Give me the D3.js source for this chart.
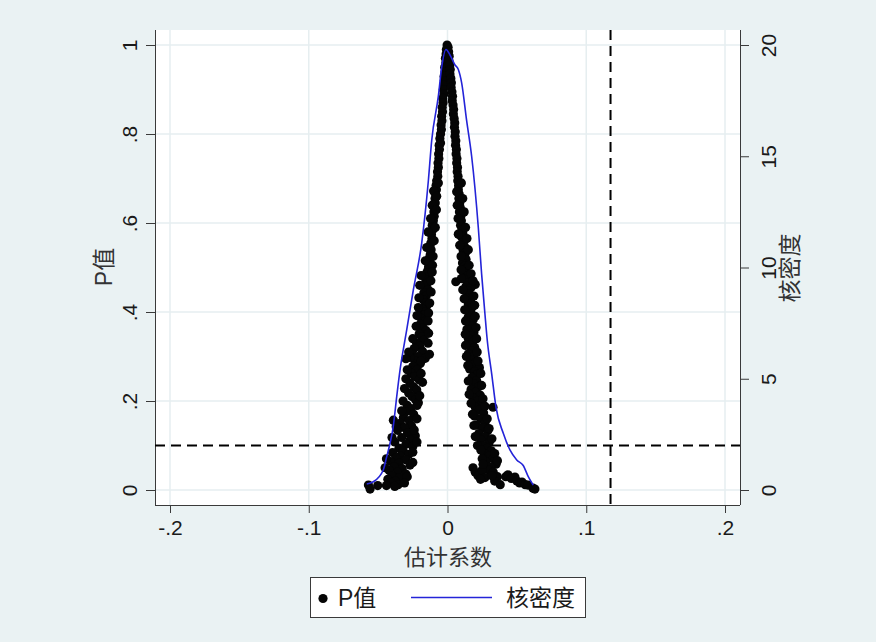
<!DOCTYPE html>
<html lang="zh">
    <head>
        <meta charset="utf-8">
        <title>安慰剂检验</title>
        <script src="https://d3js.org/d3.v7.min.js"></script>
        <style>
            body { margin: 0; background: #eaf2f3; }
            text { font-family: "Liberation Sans", Arial, "Noto Sans CJK SC", sans-serif; fill: #1a1a1a; }
            .cjk { font-family: "Noto Sans CJK SC", sans-serif; }
        </style>
    </head>
    <body>
        <script>
            // 估计系数 / P值 (left arm: negative coefficients)
            const leftCoef = [-0.0003,-0.0008,-0.0010,-0.0015,-0.0012,-0.0020,-0.0018,-0.0024,-0.0022,-0.0028,-0.0030,-0.0026,-0.0034,-0.0032,-0.0038,-0.0036,-0.0042,-0.0040,-0.0046,-0.0044,-0.0050,
                -0.0055,-0.0050,-0.0060,-0.0058,-0.0064,-0.0062,-0.0068,-0.0066,-0.0072,-0.0070,
                -0.0078,-0.0082,-0.0080,-0.0086,-0.0090,-0.0088,-0.0094,-0.0098,-0.0096,-0.0102,
                -0.0110,-0.0106,-0.0116,-0.0112,-0.0120,-0.0128,-0.0118,-0.0124,-0.0132,-0.0126,-0.0136,
                -0.0140,-0.0150,-0.0134,-0.0156,-0.0146,-0.0162,-0.0140,-0.0170,-0.0154,-0.0176,-0.0160,-0.0150,-0.0182,-0.0166,
                -0.0172,-0.0190,-0.0160,-0.0196,-0.0178,-0.0154,-0.0204,-0.0186,-0.0168,-0.0222,-0.0200,-0.0240,-0.0180,-0.0256,-0.0214,-0.0160,-0.0232,-0.0196,-0.0270,
                -0.0250,-0.0218,-0.0262,-0.0236,-0.0204,-0.0270,-0.0244,-0.0222,-0.0280,-0.0256,-0.0230,-0.0210,-0.0290,-0.0264,
                -0.0300,-0.0244,-0.0318,-0.0390,-0.0276,-0.0340,-0.0260,-0.0310,-0.0360,-0.0288,-0.0232,-0.0330,-0.0270,-0.0380,-0.0300,-0.0250,-0.0350,
                -0.0320,-0.0396,-0.0280,-0.0340,-0.0372,-0.0300,-0.0410,-0.0350,-0.0270,-0.0384,-0.0326,-0.0420,-0.0360,-0.0300,-0.0400,-0.0344,-0.0430,-0.0376,-0.0410,-0.0356,-0.0440,
                -0.0570,-0.0558,-0.0503,
                -0.0066,-0.0100,-0.0078,-0.0110,-0.0080,-0.0122,
                -0.0088,-0.0140,-0.0096,-0.0150,-0.0104,-0.0160,-0.0108,
                -0.0110,-0.0190,-0.0120,-0.0200,-0.0118,-0.0206,-0.0128,-0.0210,-0.0136,
                -0.0220,-0.0140,-0.0226,-0.0136,-0.0250,-0.0140,-0.0280,-0.0130,-0.0300,
                -0.0190,-0.0290,-0.0190,-0.0300,-0.0180,-0.0310,-0.0200,-0.0320,
                -0.0220,-0.0330,-0.0220,-0.0370,-0.0240,-0.0400,-0.0220,
                -0.0250,-0.0440,-0.0250,-0.0450,-0.0290,-0.0380,-0.0310];
            const leftP = [1.000,0.990,0.980,0.970,0.960,0.950,0.940,0.930,0.920,0.910,0.900,0.890,0.880,0.870,0.860,0.850,0.840,0.830,0.820,0.810,0.800,
                0.790,0.780,0.775,0.765,0.755,0.745,0.735,0.725,0.715,0.705,
                0.695,0.685,0.675,0.665,0.655,0.645,0.635,0.625,0.615,0.605,
                0.595,0.585,0.575,0.565,0.555,0.548,0.540,0.530,0.520,0.510,0.502,
                0.495,0.488,0.480,0.472,0.465,0.458,0.450,0.443,0.436,0.428,0.421,0.414,0.407,0.400,
                0.393,0.386,0.379,0.372,0.365,0.358,0.351,0.344,0.337,0.330,0.323,0.318,0.312,0.306,0.300,0.296,0.290,0.284,0.298,
                0.278,0.270,0.262,0.255,0.248,0.240,0.232,0.225,0.218,0.210,0.203,0.196,0.190,0.183,
                0.176,0.170,0.163,0.157,0.156,0.150,0.145,0.140,0.134,0.128,0.122,0.118,0.112,0.108,0.103,0.098,0.094,
                0.088,0.084,0.080,0.076,0.072,0.068,0.064,0.060,0.056,0.052,0.048,0.044,0.040,0.036,0.032,0.028,0.024,0.020,0.016,0.012,0.010,
                0.011,0.002,0.010,
                0.690,0.672,0.660,0.640,0.630,0.610,
                0.590,0.580,0.560,0.545,0.525,0.515,0.505,
                0.490,0.482,0.470,0.460,0.445,0.432,0.420,0.410,0.398,
                0.392,0.380,0.368,0.352,0.340,0.330,0.310,0.305,0.295,
                0.290,0.270,0.262,0.250,0.242,0.228,0.212,0.200,
                0.190,0.178,0.160,0.142,0.135,0.118,0.108,
                0.085,0.070,0.062,0.050,0.030,0.008,0.016];

            // right arm: positive coefficients
            const rightCoef = [0.0004,0.0008,0.0012,0.0010,0.0016,0.0020,0.0018,0.0024,0.0028,0.0026,0.0032,0.0036,0.0034,0.0040,0.0044,0.0042,0.0048,0.0052,0.0050,0.0056,
                0.0054,0.0060,0.0058,0.0064,0.0062,0.0068,0.0066,0.0072,0.0070,0.0076,
                0.0074,0.0080,0.0078,0.0084,0.0082,0.0088,0.0092,0.0086,0.0096,0.0100,
                0.0094,0.0104,0.0110,0.0098,0.0116,0.0106,0.0122,0.0112,0.0128,0.0118,0.0134,0.0108,0.0124,
                0.0130,0.0116,0.0140,0.0124,0.0060,0.0150,0.0200,0.0134,0.0170,0.0146,0.0160,0.0136,0.0166,0.0150,0.0176,0.0158,
                0.0172,0.0150,0.0184,0.0160,0.0176,0.0140,0.0190,0.0166,0.0150,0.0182,0.0160,0.0196,0.0172,0.0150,
                0.0188,0.0166,0.0204,0.0180,0.0230,0.0160,0.0196,0.0214,0.0176,0.0210,0.0190,0.0224,0.0170,0.0204,0.0236,0.0184,0.0216,
                0.0246,0.0200,0.0328,0.0230,0.0260,0.0196,0.0240,0.0272,0.0210,0.0256,0.0290,0.0226,0.0270,0.0240,0.0300,0.0250,
                0.0286,0.0316,0.0264,0.0300,0.0330,0.0276,0.0350,0.0310,0.0290,
                0.0184,0.0200,0.0220,0.0250,0.0270,0.0238,
                0.0330,0.0360,0.0340,0.0380,
                0.0420,0.0436,0.0460,0.0486,0.0500,0.0520,0.0537,0.0560,0.0580,0.0616,0.0630,
                0.0100,0.0066,0.0110,0.0070,0.0120,0.0076,
                0.0130,0.0078,0.0140,0.0088,0.0150,0.0098,0.0156,
                0.0098,0.0170,0.0100,0.0184,0.0110,0.0190,0.0120,0.0196,0.0124,
                0.0200,0.0130,0.0206,0.0128,0.0210,0.0130,0.0214,0.0136,
                0.0220,0.0146,0.0240,0.0150,0.0246,0.0156,0.0256,
                0.0170,0.0270,0.0180,0.0286,0.0190,0.0300,0.0200,0.0320,0.0216,
                0.0240,0.0340,0.0250,0.0360,0.0256,0.0320];
            const rightP = [0.995,0.985,0.975,0.965,0.955,0.945,0.935,0.925,0.915,0.905,0.895,0.885,0.875,0.865,0.855,0.845,0.835,0.825,0.815,0.805,
                0.795,0.785,0.775,0.765,0.755,0.745,0.735,0.725,0.715,0.705,
                0.695,0.685,0.675,0.665,0.655,0.645,0.635,0.625,0.615,0.605,
                0.595,0.585,0.577,0.570,0.562,0.555,0.548,0.540,0.532,0.525,0.518,0.510,0.503,
                0.496,0.489,0.482,0.475,0.468,0.466,0.462,0.458,0.455,0.448,0.440,0.432,0.425,0.418,0.410,0.403,
                0.396,0.389,0.382,0.375,0.368,0.361,0.354,0.347,0.340,0.333,0.326,0.320,0.313,0.306,
                0.300,0.293,0.287,0.280,0.275,0.272,0.266,0.260,0.253,0.246,0.239,0.232,0.226,0.220,0.213,0.207,0.200,
                0.193,0.186,0.186,0.180,0.173,0.166,0.160,0.153,0.146,0.140,0.133,0.127,0.120,0.113,0.107,0.100,
                0.094,0.088,0.082,0.076,0.070,0.064,0.058,0.052,0.046,
                0.050,0.040,0.032,0.045,0.028,0.024,
                0.040,0.030,0.020,0.012,
                0.030,0.034,0.026,0.029,0.020,0.016,0.018,0.012,0.011,0.004,0.002,
                0.690,0.670,0.655,0.640,0.625,0.610,
                0.590,0.575,0.565,0.550,0.540,0.525,0.505,
                0.495,0.486,0.475,0.470,0.450,0.436,0.430,0.415,0.405,
                0.390,0.380,0.365,0.350,0.340,0.325,0.310,0.300,
                0.290,0.280,0.262,0.245,0.235,0.215,0.205,
                0.195,0.188,0.170,0.160,0.145,0.138,0.120,0.115,0.100,
                0.090,0.082,0.070,0.066,0.058,0.032];

            // 核密度 curve (coefficient, density)
            const kdeX = [-0.0582,-0.0535,-0.0463,-0.0438,-0.0414,-0.0391,-0.0366,-0.0342,-0.0319,-0.0294,-0.0246,-0.0186,-0.0138,-0.0114,-0.0066,-0.0042,-0.0011,
                0.0018,0.0054,0.0078,0.0102,0.0138,0.0174,0.0222,0.0246,0.0270,0.0287,0.0319,0.0350,0.0402,0.0450,0.0499,0.0546,0.0582,0.0618];
            const kdeY = [0.27,0.37,0.9,1.5,2.1,2.85,4.2,5.4,6.3,7.2,9.0,11.1,13.9,15.7,17.7,19.0,19.8,
                19.55,19.1,18.9,18.3,16.6,15.0,11.8,9.7,7.9,6.7,5.2,3.7,2.55,1.8,1.35,1.1,0.6,0.22];

            const xTicks = [-0.2, -0.1, 0, 0.1, 0.2];
            const xTickLabels = ['-.2', '-.1', '0', '.1', '.2'];
            const pTicks = [0, 0.2, 0.4, 0.6, 0.8, 1];
            const pTickLabels = ['0', '.2', '.4', '.6', '.8', '1'];
            const kdeTicks = [0, 5, 10, 15, 20];
            const pCutoff = 0.1;
            const trueCoef = 0.1175;

            const w = 876;
            const h = 642;
            const plotLeft = 155, plotRight = 740, plotTop = 30, plotBottom = 505;

            const svg = d3.select('body')
                          .append('svg')
                          .attr('width', w)
                          .attr('height', h)

            svg.append('rect')
               .attr('width', w)
               .attr('height', h)
               .attr('fill', '#eaf2f3')

            svg.append('rect')
               .attr('x', plotLeft)
               .attr('y', plotTop)
               .attr('width', plotRight - plotLeft)
               .attr('height', plotBottom - plotTop)
               .attr('fill', '#ffffff')

            const xScale = d3.scaleLinear().domain([-0.2, 0.2]).range([170, 725]);
            const pScale = d3.scaleLinear().domain([0, 1]).range([490, 45]);
            const kScale = d3.scaleLinear().domain([0, 20]).range([490, 45]);

            // grid
            svg.append('g')
               .selectAll('line')
               .data(pTicks)
               .enter()
               .append('line')
               .attr('x1', plotLeft).attr('x2', plotRight)
               .attr('y1', d => pScale(d)).attr('y2', d => pScale(d))
               .attr('stroke', '#e6eef0')
               .attr('stroke-width', 1.5)
            svg.append('g')
               .selectAll('line')
               .data(xTicks)
               .enter()
               .append('line')
               .attr('x1', d => xScale(d)).attr('x2', d => xScale(d))
               .attr('y1', plotTop).attr('y2', plotBottom)
               .attr('stroke', '#e6eef0')
               .attr('stroke-width', 1.5)

            // axes
            const xAxis = d3.axisBottom(xScale)
                            .tickValues(xTicks)
                            .tickFormat((d, i) => xTickLabels[i])
                            .tickSize(8)
                            .tickPadding(7)
                            .tickSizeOuter(0)
            const gx = svg.append('g')
                          .attr('transform', 'translate(0,' + plotBottom + ')')
                          .call(xAxis)
            gx.select('.domain').attr('d', 'M' + plotLeft + ',0.5H' + plotRight)
            gx.selectAll('text').attr('font-size', 21).attr('dy', '0.71em')

            const pAxis = d3.axisLeft(pScale)
                            .tickValues(pTicks)
                            .tickFormat((d, i) => pTickLabels[i])
                            .tickSize(9)
                            .tickSizeOuter(0)
            const gp = svg.append('g')
                          .attr('transform', 'translate(' + plotLeft + ',0)')
                          .call(pAxis)
            gp.select('.domain').attr('d', 'M0.5,' + plotTop + 'V' + plotBottom)
            gp.selectAll('text')
              .attr('font-size', 21)
              .attr('text-anchor', 'middle')
              .attr('x', 0).attr('dy', 0)
              .attr('transform', 'translate(-18,0) rotate(-90)')

            const kAxis = d3.axisRight(kScale)
                            .tickValues(kdeTicks)
                            .tickSize(9)
                            .tickSizeOuter(0)
            const gk = svg.append('g')
                          .attr('transform', 'translate(' + plotRight + ',0)')
                          .call(kAxis)
            gk.select('.domain').attr('d', 'M0.5,' + plotTop + 'V' + plotBottom)
            gk.selectAll('text')
              .attr('font-size', 21)
              .attr('text-anchor', 'middle')
              .attr('x', 0).attr('dy', 0)
              .attr('transform', 'translate(36,0) rotate(-90)')

            svg.selectAll('.domain, .tick line').attr('stroke', '#3a3a3a')

            // reference lines
            svg.append('line')
               .attr('x1', plotLeft).attr('x2', plotRight)
               .attr('y1', pScale(pCutoff)).attr('y2', pScale(pCutoff))
               .attr('stroke', '#000').attr('stroke-width', 2)
               .attr('stroke-dasharray', '10,6')
            svg.append('line')
               .attr('x1', xScale(trueCoef)).attr('x2', xScale(trueCoef))
               .attr('y1', plotTop).attr('y2', plotBottom)
               .attr('stroke', '#000').attr('stroke-width', 2)
               .attr('stroke-dasharray', '10,6')

            // points
            const points = leftCoef.map((c, i) => [c, leftP[i]])
                                   .concat(rightCoef.map((c, i) => [c, rightP[i]]));
            svg.append('g')
               .selectAll('circle')
               .data(points)
               .enter()
               .append('circle')
               .attr('cx', d => xScale(d[0]))
               .attr('cy', d => pScale(d[1]))
               .attr('r', 4.6)
               .attr('fill', '#050505')

            // kernel density
            const kde = kdeX.map((x, i) => [x, kdeY[i]]);
            svg.append('path')
               .datum(kde)
               .attr('fill', 'none')
               .attr('stroke', '#2424d8')
               .attr('stroke-width', 1.6)
               .attr('d', d3.line().x(d => xScale(d[0])).y(d => kScale(d[1])).curve(d3.curveMonotoneX))

            // titles
            svg.append('text')
               .text('估计系数')
               .attr('class', 'cjk')
               .attr('x', 448)
               .attr('y', 565)
               .attr('text-anchor', 'middle')
               .attr('font-size', 22)
               .style('fill', '#333')
            svg.append('text')
               .text('P值')
               .attr('text-anchor', 'middle')
               .attr('font-size', 23)
               .attr('transform', 'translate(112,267) rotate(-90)')
               .style('fill', '#333')
            svg.append('text')
               .text('核密度')
               .attr('class', 'cjk')
               .attr('text-anchor', 'middle')
               .attr('font-size', 23)
               .attr('transform', 'translate(798,268) rotate(-90)')
               .style('fill', '#333')

            // legend
            const legend = svg.append('g')
            legend.append('rect')
                  .attr('x', 310.5).attr('y', 577.5)
                  .attr('width', 275).attr('height', 40)
                  .attr('fill', '#fff')
                  .attr('stroke', '#3a3a3a')
            legend.append('circle')
                  .attr('cx', 323).attr('cy', 598.5)
                  .attr('r', 4.6)
                  .attr('fill', '#050505')
            legend.append('text')
                  .text('P值')
                  .attr('x', 338).attr('y', 606)
                  .attr('font-size', 23)
            legend.append('line')
                  .attr('x1', 411).attr('x2', 492)
                  .attr('y1', 597.5).attr('y2', 597.5)
                  .attr('stroke', '#2424d8')
                  .attr('stroke-width', 1.6)
            legend.append('text')
                  .text('核密度')
                  .attr('class', 'cjk')
                  .attr('x', 506).attr('y', 606)
                  .attr('font-size', 23)
        </script>
    </body>
</html>
